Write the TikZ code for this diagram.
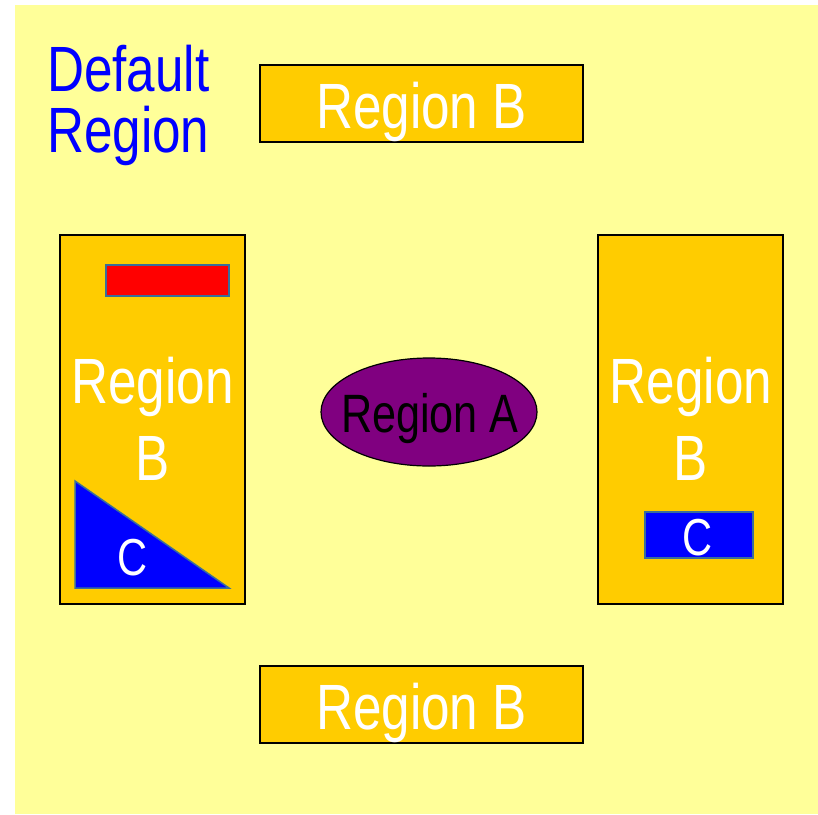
\documentclass[tikz,border=0pt]{standalone}
\usepackage{fontspec}
\setmainfont{Liberation Sans}[FakeStretch=0.8]
\usetikzlibrary{shapes.geometric}
\definecolor{bgyellow}{HTML}{FFFF99}
\definecolor{boxorange}{HTML}{FFCC00}
\definecolor{apurple}{HTML}{800080}
\definecolor{cblue}{HTML}{0000FF}
\definecolor{cred}{HTML}{FF0000}
\definecolor{edgeblue}{HTML}{3A6E9A}
\tikzset{
  boxB/.style={draw=black, line width=1.6pt, fill=boxorange},
  shapeC/.style={draw=edgeblue, line width=1.5pt},
  bigtxt/.style={text=white, font=\fontsize{64}{77}\selectfont, inner sep=0pt},
  ctxt/.style={text=white, font=\fontsize{52}{60}\selectfont, inner sep=0pt},
}
\begin{document}
\begin{tikzpicture}[x=1pt,y=-1pt]
\useasboundingbox (0,0) rectangle (818,814);
\fill[bgyellow] (15,5) rectangle (818,814);
% default region label
\node[anchor=base west, align=left, text=cblue, inner sep=0pt, font=\fontsize{64}{61}\selectfont] (deflabel) at (47,152) {Default\\Region};
% top and bottom boxes
\draw[boxB] (260,65) rectangle (583,142);
\node[bigtxt, anchor=base] (topB) at (421.5,128) {Region B};
\draw[boxB] (260,666) rectangle (583,743);
\node[bigtxt, anchor=base] (botB) at (421.5,729) {Region B};
% left box
\draw[boxB] (60,235) rectangle (245,604);
\draw[shapeC, fill=cred] (106,265) rectangle (229,296);
\node[bigtxt, anchor=base, align=center] (leftB) at (152.5,480) {Region\\B};
\draw[shapeC, fill=cblue] (75,481) -- (75,588) -- (229,588) -- cycle;
\node[ctxt, anchor=base] (leftC) at (133,575) {C};
% right box
\draw[boxB] (598,235) rectangle (783,604);
\node[bigtxt, anchor=base, align=center] (rightB) at (691,480) {Region\\B};
\draw[shapeC, fill=cblue] (645,512) rectangle (753,558);
\node[ctxt, anchor=base] (rightC) at (698,555) {C};
% ellipse
\node[ellipse, draw=black, line width=1.2pt, fill=apurple, minimum width=216pt, minimum height=108pt, inner sep=0pt] (regA) at (429,412) {};
\node[anchor=base, inner sep=0pt, text=black, font=\fontsize{54}{60}\selectfont] (regAtxt) at (430,432) {Region A};
\end{tikzpicture}
\end{document}
